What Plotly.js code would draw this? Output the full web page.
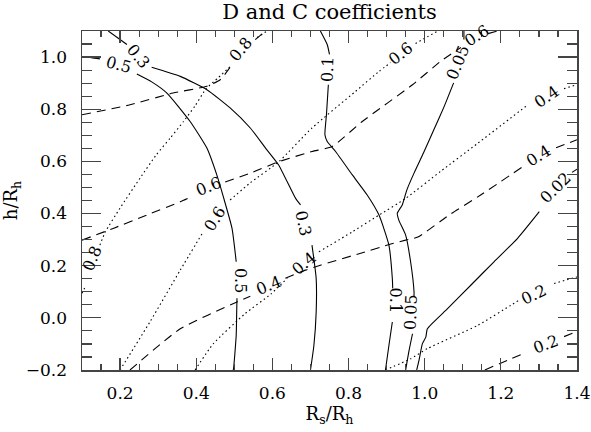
<!DOCTYPE html>
<html>
<head>
<meta charset="utf-8">
<script src="https://cdn.plot.ly/plotly-3.0.1.min.js"></script>
<style>html,body{margin:0;padding:0;background:#fff;}#chart{width:591px;height:432px;}</style>
</head>
<body>
<div id="chart"></div>
<script>
// ---- Solid contours (D coefficient) ----
const solid05_x = [0.100,0.125,0.147,null,0.244,0.283,0.323,0.384,0.428,0.454,0.472,0.494,0.505,null,0.507,0.506,0.505,0.498,0.497];
const solid05_y = [1.002,0.998,0.993,null,0.935,0.905,0.862,0.753,0.651,0.548,0.460,0.343,0.215,null,0.075,0.000,-0.067,-0.195,-0.200];
const solid03_x = [0.169,0.218,null,0.283,0.358,0.428,0.489,0.542,0.582,0.616,0.661,0.674,null,0.704,0.715,0.715,0.709,0.700];
const solid03_y = [1.100,1.048,null,0.961,0.926,0.875,0.805,0.728,0.651,0.587,0.458,0.433,null,0.279,0.151,0.022,-0.106,-0.200];
const solid01_x = [0.726,0.744,0.750,null,0.747,0.742,0.738,0.744,0.766,0.810,0.849,0.880,0.906,0.915,0.916,null,0.915,0.906,0.897];
const solid01_y = [1.100,1.048,1.010,null,0.894,0.779,0.702,0.676,0.638,0.548,0.471,0.394,0.279,0.151,0.113,null,-0.016,-0.106,-0.200];
const solid005_x = [1.103,1.103,null,1.076,1.051,1.024,0.997,0.972,0.953,0.941,0.928,0.932,0.950,0.963,0.972,0.972,null,0.968,0.959,0.950];
const solid005_y = [1.100,1.067,null,0.901,0.810,0.721,0.633,0.555,0.490,0.433,0.401,0.375,0.317,0.215,0.099,0.083,null,-0.061,-0.125,-0.200];
const solid002_x = [1.400,1.387,null,1.301,1.244,1.182,1.121,1.060,1.007,1.003,0.994,0.985,0.979];
const solid002_y = [0.570,0.558,null,0.407,0.305,0.215,0.125,0.035,-0.042,-0.074,-0.099,-0.163,-0.200];

// ---- Dashed contours ----
const dash08_x = [0.100,0.226,0.339,0.428,0.463,0.494,null,0.555,0.582];
const dash08_y = [0.779,0.817,0.862,0.888,0.913,0.971,null,1.067,1.100];
const dash06_x = [0.100,0.182,0.270,0.358,0.392,null,0.476,0.542,0.617,0.704,0.757,0.836,0.968,1.042,1.095,null,1.166,1.192];
const dash06_y = [0.298,0.343,0.394,0.445,0.467,null,0.521,0.555,0.599,0.638,0.657,0.753,0.894,0.984,1.037,null,1.090,1.100];
const dash04_x = [0.226,0.358,0.507,0.542,null,0.634,0.687,0.726,0.832,0.911,0.950,0.982,1.068,1.147,1.261,null,1.345,1.400];
const dash04_y = [-0.200,-0.042,0.061,0.083,null,0.152,0.183,0.202,0.248,0.283,0.298,0.310,0.398,0.471,0.583,null,0.652,0.683];
const dash02_x = [1.158,1.226,1.266,null,1.366,1.400];
const dash02_y = [-0.200,-0.157,-0.133,null,-0.072,-0.052];

// ---- Dotted contours ----
const dot08_x = [0.100,0.108,null,0.147,0.161,0.200,0.253,0.295,0.332,0.366,0.397,0.426,0.458,0.494,null,0.560,0.586];
const dot08_y = [0.094,0.118,null,0.279,0.329,0.421,0.537,0.625,0.690,0.752,0.813,0.879,0.921,0.971,null,1.075,1.100];
const dot06_x = [0.200,0.279,0.358,0.418,null,0.489,0.542,0.617,0.704,0.818,0.880,0.911,null,0.976,1.034];
const dot06_y = [-0.200,-0.014,0.183,0.329,null,0.452,0.518,0.599,0.728,0.868,0.945,0.979,null,1.052,1.100];
const dot04_x = [0.397,0.445,0.529,0.595,0.639,null,0.722,0.810,0.880,0.950,1.042,1.139,1.271,null,1.366,1.400];
const dot04_y = [-0.200,-0.099,0.017,0.090,0.152,null,0.253,0.330,0.394,0.458,0.562,0.669,0.817,null,0.879,0.894];
const dot02_x = [0.897,0.963,1.007,1.139,1.226,1.247,null,1.340,1.400];
const dot02_y = [-0.200,-0.157,-0.118,-0.029,0.048,0.067,null,0.132,0.157];

// ---- Contour labels ----
const labelText  = ["0.5","0.3","0.8","0.1","0.6","0.05","0.6","0.4","0.4","0.02","0.6","0.6","0.8","0.3","0.5","0.4","0.4","0.1","0.05","0.2","0.2"];
const labelX     = [0.195,0.249,0.516,0.745,0.937,1.087,1.137,1.321,1.300,1.345,0.432,0.447,0.126,0.682,0.516,0.589,0.682,0.924,0.963,1.287,1.316];
const labelY     = [0.973,1.004,1.029,0.952,1.013,0.979,1.083,0.848,0.621,0.498,0.502,0.379,0.229,0.363,0.144,0.125,0.210,0.067,0.021,0.090,-0.102];
const labelAngle = [15,50,-50,-88,-38,-68,-32,-35,-32,-45,-22,-58,-68,78,90,-22,-40,90,-88,-25,-20];

const FONT = 'DejaVu Serif';
const SOLID = 'solid', DASHED = '9px,6px', DOTTED = '1.5px,3px';

const contours = [
  [solid05_x, solid05_y, SOLID], [solid03_x, solid03_y, SOLID], [solid01_x, solid01_y, SOLID],
  [solid005_x, solid005_y, SOLID], [solid002_x, solid002_y, SOLID],
  [dash08_x, dash08_y, DASHED], [dash06_x, dash06_y, DASHED], [dash04_x, dash04_y, DASHED], [dash02_x, dash02_y, DASHED],
  [dot08_x, dot08_y, DOTTED], [dot06_x, dot06_y, DOTTED], [dot04_x, dot04_y, DOTTED], [dot02_x, dot02_y, DOTTED]
];

const traces = contours.map(c => ({
  type: 'scatter', mode: 'lines', x: c[0], y: c[1],
  line: {color: '#000', width: 1.1, dash: c[2], shape: 'spline', smoothing: 0.5},
  connectgaps: false, hoverinfo: 'skip', showlegend: false
}));

const annotations = labelText.map((t, i) => ({
  x: labelX[i], y: labelY[i], xref: 'x', yref: 'y', text: t, showarrow: false,
  textangle: labelAngle[i], xanchor: 'center', yanchor: 'middle',
  font: {family: FONT, size: 16, color: '#000'}
}));

const axisCommon = {
  showgrid: false, zeroline: false, showline: true, linecolor: '#444', linewidth: 1.5,
  mirror: 'ticks', ticks: 'inside', tickcolor: '#444', tickwidth: 1.2,
  tickformat: '.1f', tickfont: {family: FONT, size: 17, color: '#000'}
};

const layout = {
  width: 591, height: 432,
  margin: {l: 82, r: 14, t: 31, b: 62, pad: 0},
  paper_bgcolor: '#fff', plot_bgcolor: '#fff',
  title: {text: 'D and C coefficients', font: {family: FONT, size: 21, color: '#000'},
          x: 0.5, xref: 'paper', xanchor: 'center', y: 1 - 12/432, yref: 'container', yanchor: 'middle'},
  xaxis: Object.assign({}, axisCommon, {
    range: [0.1, 1.4], tick0: 0, dtick: 0.2, ticklen: 12, ticklabelstandoff: 7,
    minor: {ticks: 'inside', ticklen: 6, dtick: 0.05, tick0: 0, tickcolor: '#444', tickwidth: 1.2},
    title: {text: 'R<sub>s</sub>/R<sub>h</sub>', font: {family: FONT, size: 18, color: '#000'}, standoff: 3}
  }),
  yaxis: Object.assign({}, axisCommon, {
    range: [-0.2, 1.1], tick0: 0, dtick: 0.2, ticklen: 19, ticklabelstandoff: 10,
    minor: {ticks: 'inside', ticklen: 10, dtick: 0.05, tick0: 0, tickcolor: '#444', tickwidth: 1.2},
    title: {text: 'h/R<sub>h</sub>', font: {family: FONT, size: 18, color: '#000'}, standoff: 3}
  }),
  annotations: annotations
};

Plotly.newPlot('chart', traces, layout, {staticPlot: true, displayModeBar: false});
</script>
</body>
</html>
